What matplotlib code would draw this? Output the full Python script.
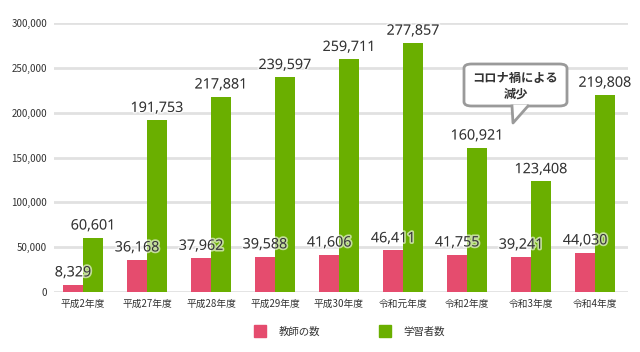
import matplotlib.pyplot as plt
import matplotlib.patheffects as pe
from matplotlib.patches import FancyBboxPatch, Polygon
from matplotlib.lines import Line2D
import numpy as np

plt.rcParams['font.family'] = ['Noto Sans CJK JP', 'DejaVu Sans']

years = ['平成2年度', '平成27年度', '平成28年度', '平成29年度', '平成30年度',
         '令和元年度', '令和2年度', '令和3年度', '令和4年度']
teachers = [8329, 36168, 37962, 39588, 41606, 46411, 41755, 39241, 44030]
learners = [60601, 191753, 217881, 239597, 259711, 277857, 160921, 123408, 219808]
yticks = [0, 50000, 100000, 150000, 200000, 250000, 300000]

pink = '#e54c6e'
green = '#6aaf00'

W, H = 640, 352
fig = plt.figure(figsize=(6.4, 3.52), dpi=100)
ax = fig.add_axes([54 / W, 1 - 292 / H, 574 / W, 269 / H])

x = np.arange(len(years))
bw = 0.31
ax.bar(x - bw / 2, teachers, bw, color=pink, zorder=2)
ax.bar(x + bw / 2, learners, bw, color=green, zorder=2)

halo = [pe.withStroke(linewidth=2.5, foreground=(1, 1, 1, 0.6))]
for i in range(len(years)):
    ax.annotate(f'{teachers[i]:,}', (x[i] - bw / 2, teachers[i]), xytext=(0, 3),
                textcoords='offset points', ha='center', va='bottom',
                fontsize=10.3, family='Open Sans', color='#333333',
                path_effects=halo, zorder=4)
    ax.annotate(f'{learners[i]:,}', (x[i] + bw / 2, learners[i]), xytext=(0, 3),
                textcoords='offset points', ha='center', va='bottom',
                fontsize=10.3, family='Open Sans', color='#333333',
                path_effects=halo, zorder=4)

ax.set_xlim(-0.453, 8.516)
ax.set_ylim(0, 300000)
ax.set_yticks(yticks)
ax.set_yticklabels([f'{v:,}' for v in yticks], fontsize=7, color='#333333')
ax.set_xticks(x)
ax.set_xticklabels(years, fontsize=7, color='#333333')
ax.tick_params(length=0, pad=5)
ax.grid(axis='y', color='#e1e1e1', linewidth=2, zorder=0)
for s in ax.spines.values():
    s.set_visible(False)

# speech bubble
def fx(px):
    return px / W

def fy(py):
    return 1 - py / H

box = FancyBboxPatch((fx(464), fy(106)), fx(567) - fx(464), fy(64) - fy(106),
                     boxstyle='round,pad=0,rounding_size=0.012',
                     transform=fig.transFigure, facecolor='white',
                     edgecolor='#9a9a9a', linewidth=2, zorder=5)
fig.patches.append(box)
tail = Polygon([(fx(511), fy(105)), (fx(528), fy(105)), (fx(513), fy(123))],
               closed=True, transform=fig.transFigure, facecolor='white',
               edgecolor='none', zorder=6)
fig.patches.append(tail)
fig.lines.append(Line2D([fx(512), fx(513), fx(528)], [fy(106), fy(123), fy(106)],
                        transform=fig.transFigure, color='#9a9a9a', linewidth=2,
                        zorder=7))
fig.text(fx(515.5), fy(86), 'コロナ禍による\n減少', ha='center', va='center',
         fontsize=8.8, fontweight='bold', color='#333333', linespacing=1.3,
         zorder=8)

handles = [Line2D([], [], marker='s', linestyle='none', markersize=8, color=pink),
           Line2D([], [], marker='s', linestyle='none', markersize=8, color=green)]
fig.legend(handles, ['教師の数', '学習者数'], loc='center', ncol=2,
           bbox_to_anchor=(347 / W, 1 - 332 / H), frameon=False, fontsize=7.5,
           handletextpad=0.8, columnspacing=5.2, labelcolor='#333333')

fig.savefig('out.png', dpi=100)
